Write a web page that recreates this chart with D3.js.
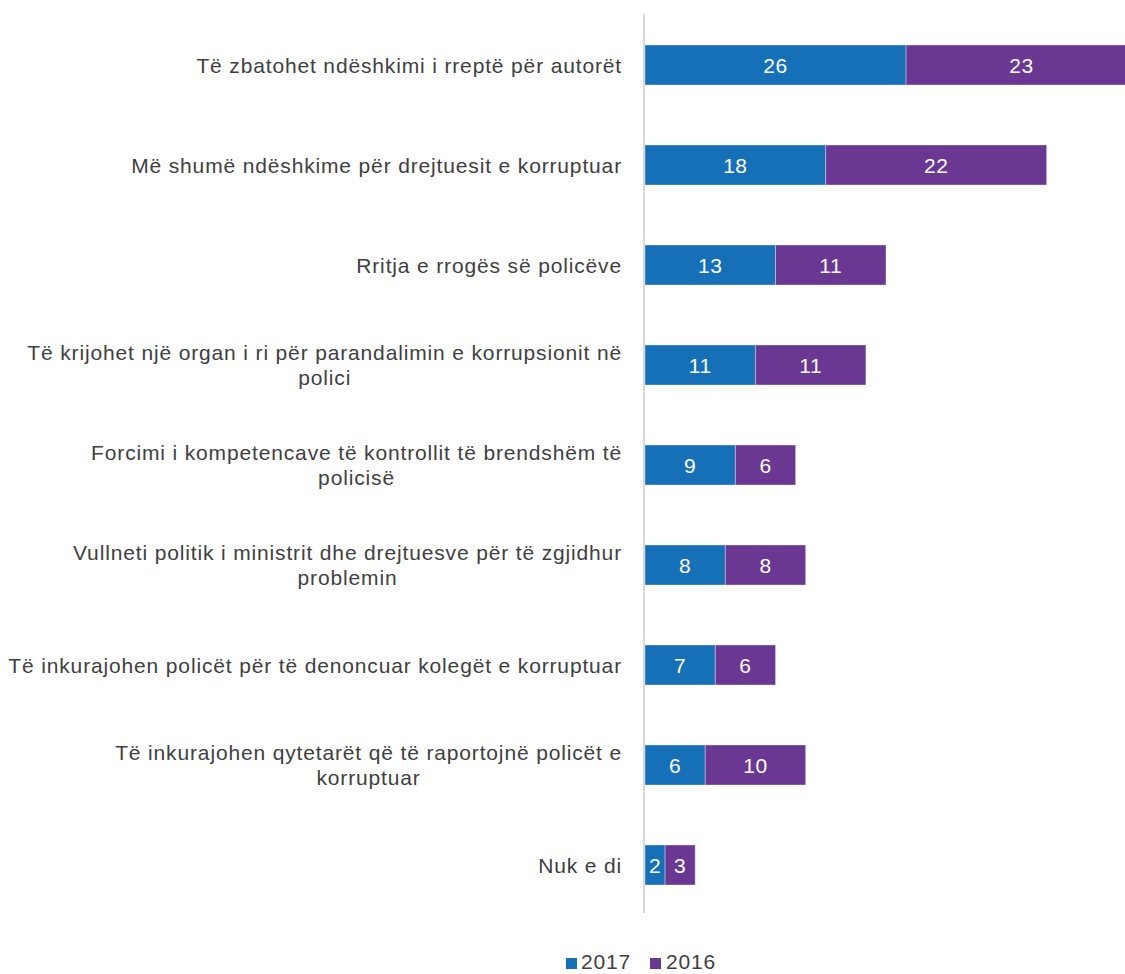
<!DOCTYPE html>
<html><head><meta charset="utf-8">
<script src="https://cdn.jsdelivr.net/npm/d3@7"></script>
<style>body{margin:0;background:#fff}svg{display:block}</style>
</head><body><svg id="c" width="1125" height="974"></svg>
<script>
const categories = [
  "Të zbatohet ndëshkimi i rreptë për autorët",
  "Më shumë ndëshkime për drejtuesit e korruptuar",
  "Rritja e rrogës së policëve",
  "Të krijohet një organ i ri për parandalimin e korrupsionit në|polici",
  "Forcimi i kompetencave të kontrollit të brendshëm të|policisë",
  "Vullneti politik i ministrit dhe drejtuesve për të zgjidhur|problemin",
  "Të inkurajohen policët për të denoncuar kolegët e korruptuar",
  "Të inkurajohen qytetarët që të raportojnë policët e|korruptuar",
  "Nuk e di"
];
const values2017 = [26, 18, 13, 11, 9, 8, 7, 6, 2];
const values2016 = [23, 22, 11, 11, 6, 8, 6, 10, 3];
const seriesNames = ["2017", "2016"];
const colors = ["#1570b8", "#6a3893"];

const svg = d3.select("#c");
const font = "'Liberation Sans', Arial, sans-serif";
const labelSize = 21;
const labelSpacing = 0.85;
const x = d3.scaleLinear().domain([0, 49]).range([645, 1137]);
const y = d3.scaleBand().domain(d3.range(categories.length)).range([15, 915]).paddingInner(0.6).paddingOuter(0.3);

const data = categories.map((c, i) => ({i, a: values2017[i], b: values2016[i]}));
const g = svg.append("g");
data.forEach(d => {
  const segs = [{v: d.a, x0: 0, c: colors[0]}, {v: d.b, x0: d.a, c: colors[1]}];
  segs.forEach(s => {
    g.append("rect").attr("x", x(s.x0)).attr("y", y(d.i)).attr("width", x(s.x0 + s.v) - x(s.x0))
      .attr("height", y.bandwidth()).attr("fill", s.c).attr("stroke", "rgba(255,255,255,0.35)").attr("stroke-width", 1);
    g.append("text").attr("x", (x(s.x0) + x(s.x0 + s.v)) / 2).attr("y", y(d.i) + y.bandwidth() / 2)
      .attr("dy", "0.36em").attr("text-anchor", "middle").attr("fill", "#fff")
      .attr("font-family", font).attr("font-size", 21).attr("letter-spacing", 0.5).text(s.v);
  });
});

// axis line
svg.append("line").attr("x1", 644).attr("x2", 644).attr("y1", 14).attr("y2", 913)
  .attr("stroke", "#d9d9d9").attr("stroke-width", 2);

// category labels
categories.forEach((c, i) => {
  const lines = c.split("|");
  const cy = y(i) + y.bandwidth() / 2;
  const widths = lines.map(l => {
    const t = svg.append("text").attr("font-family", font).attr("font-size", labelSize)
      .attr("letter-spacing", labelSpacing).text(l);
    const w = t.node().getComputedTextLength(); t.remove(); return w;
  });
  const bw = d3.max(widths);
  const right = 622;
  lines.forEach((l, k) => {
    svg.append("text").attr("x", right - bw / 2).attr("y", cy + (k - (lines.length - 1) / 2) * 25)
      .attr("dy", "0.36em").attr("text-anchor", "middle").attr("fill", "#404040")
      .attr("font-family", font).attr("font-size", labelSize).attr("letter-spacing", labelSpacing).text(l);
  });
});

// legend
const leg = [{x: 566, tx: 581}, {x: 650, tx: 666}];
seriesNames.forEach((n, k) => {
  svg.append("rect").attr("x", leg[k].x).attr("y", 958).attr("width", 11).attr("height", 11).attr("fill", colors[k]);
  svg.append("text").attr("x", leg[k].tx).attr("y", 969).attr("fill", "#404040")
    .attr("font-family", font).attr("font-size", 21).attr("letter-spacing", 0.8).text(n);
});
</script></body></html>
